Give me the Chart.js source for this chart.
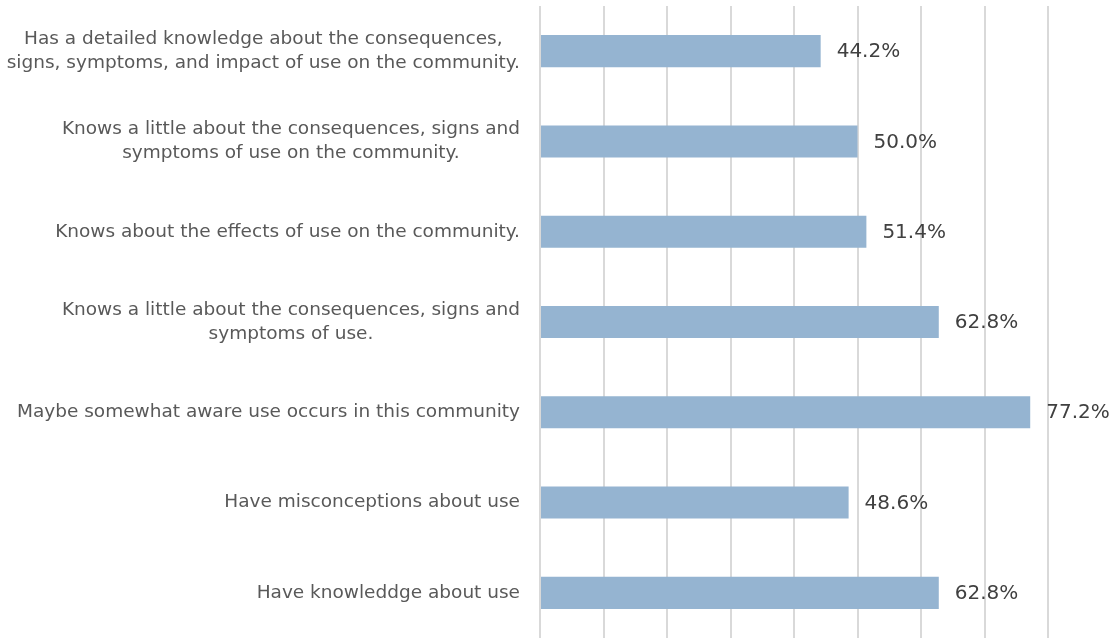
<!DOCTYPE html>
<html>
<head>
<meta charset="utf-8">
<script src="https://cdn.jsdelivr.net/npm/chart.js@4/dist/chart.umd.min.js"></script>
<style>
  html, body { margin: 0; padding: 0; background: #fff; }
  #wrap { width: 1114px; height: 638px; }
</style>
</head>
<body>
<div id="wrap"><canvas id="knowledgeChart"></canvas></div>
<script>
// categories, top to bottom (each entry is the list of lines for that label)
var categories = [
  ['Has a detailed knowledge about the consequences,', 'signs, symptoms, and impact of use on the community.'],
  ['Knows a little about the consequences, signs and', 'symptoms of use on the community.'],
  ['Knows about the effects of use on the community.'],
  ['Knows a little about the consequences, signs and', 'symptoms of use.'],
  ['Maybe somewhat aware use occurs in this community'],
  ['Have misconceptions about use'],
  ['Have knowleddge about use']
];
var percentages = [44.2, 50.0, 51.4, 62.8, 77.2, 48.6, 62.8];
var axisMax = 80;
var axisStep = 10;

var labelFont = '18.5px "DejaVu Sans", sans-serif';
var valueFont = '20px "DejaVu Sans", sans-serif';

// category labels: right-aligned block, lines centred inside the block
var categoryLabels = {
  id: 'categoryLabels',
  afterDraw: function(chart) {
    var ctx = chart.ctx;
    var yScale = chart.scales.y;
    var right = chart.chartArea.left - 20;
    var lineHeight = 24;
    ctx.save();
    ctx.font = labelFont;
    ctx.fillStyle = '#595959';
    ctx.textAlign = 'center';
    ctx.textBaseline = 'middle';
    categories.forEach(function(lines, i) {
      var widths = lines.map(function(l) { return ctx.measureText(l).width; });
      var blockW = Math.max.apply(null, widths);
      var cx = right - blockW / 2;
      var cy = yScale.getPixelForValue(i);
      var top = cy - (lines.length - 1) * lineHeight / 2;
      lines.forEach(function(l, j) {
        ctx.fillText(l, cx, top + j * lineHeight);
      });
    });
    ctx.restore();
  }
};

// percentage printed just past the end of each bar
var valueLabels = {
  id: 'valueLabels',
  afterDatasetsDraw: function(chart) {
    var ctx = chart.ctx;
    var meta = chart.getDatasetMeta(0);
    ctx.save();
    ctx.font = valueFont;
    ctx.fillStyle = '#404040';
    ctx.textAlign = 'left';
    ctx.textBaseline = 'middle';
    meta.data.forEach(function(bar, i) {
      ctx.fillText(percentages[i].toFixed(1) + '%', bar.x + 16, bar.y + 1);
    });
    ctx.restore();
  }
};

var ctx = document.getElementById('knowledgeChart').getContext('2d');
var knowledgeChart = new Chart(ctx, {
  type: 'bar',
  data: {
    labels: categories,
    datasets: [{
      data: percentages,
      backgroundColor: '#95b4d1',
      borderWidth: 0,
      categoryPercentage: 1,
      barPercentage: 0.355
    }]
  },
  options: {
    indexAxis: 'y',
    responsive: true,
    maintainAspectRatio: false,
    animation: false,
    layout: { padding: { left: 540, right: 66, top: 6, bottom: 0 } },
    plugins: {
      legend: { display: false },
      tooltip: { enabled: false }
    },
    scales: {
      x: {
        min: 0,
        max: axisMax,
        ticks: { display: false, stepSize: axisStep },
        grid: { color: '#d9d9d9', lineWidth: 2, drawTicks: false },
        border: { display: false }
      },
      y: {
        display: false
      }
    }
  },
  plugins: [categoryLabels, valueLabels]
});
</script>
</body>
</html>
